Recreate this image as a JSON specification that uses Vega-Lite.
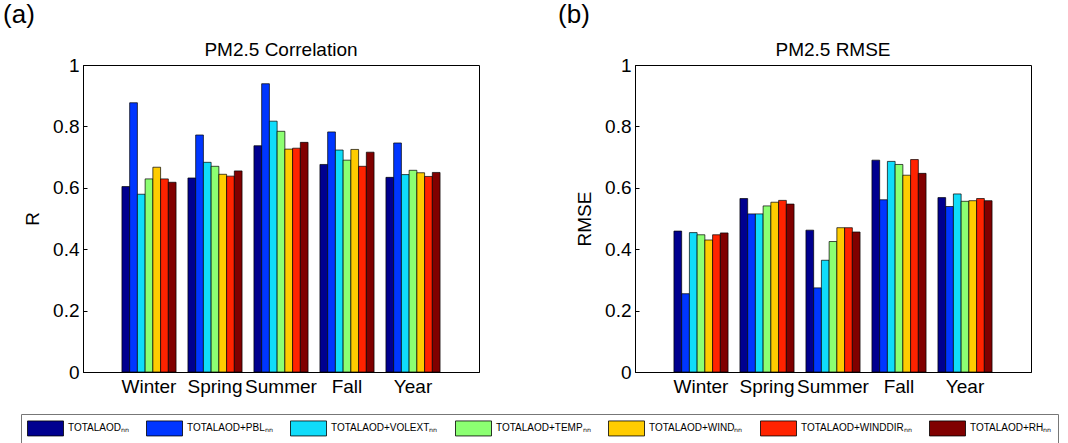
{
  "$schema": "https://vega.github.io/schema/vega-lite/v6.json",
  "background": "white",
  "padding": {"left": 3, "top": 1, "right": 8, "bottom": 0},
  "config": {
    "font": "Liberation Sans",
    "view": {"stroke": "#000", "strokeWidth": 1},
    "axis": {
      "grid": false,
      "domainColor": "#000",
      "tickColor": "#000",
      "labelColor": "#000",
      "titleColor": "#000",
      "labelFont": "Liberation Sans",
      "titleFont": "Liberation Sans",
      "labelFontSize": 19,
      "titleFontSize": 19,
      "titleFontWeight": "normal"
    },
    "title": {"font": "Liberation Sans", "fontWeight": "normal", "color": "#000"},
    "legend": {
      "orient": "none",
      "legendX": -62,
      "legendY": 349,
      "direction": "horizontal",
      "columns": 7,
      "symbolType": "M-1,-1H3.8V1H-1Z",
      "symbolSize": 225,
      "symbolStrokeColor": "#000",
      "symbolStrokeWidth": 0.8,
      "symbolOpacity": 1,
      "labelFont": "Liberation Sans",
      "labelFontSize": 10,
      "labelColor": "#000",
      "labelOffset": 25,
      "columnPadding": 15,
      "strokeColor": "#777",
      "padding": 6
    }
  },
  "datasets": {
    "scores": [
      {"panel": "R", "season": "Winter", "series": "TOTALAOD", "value": 0.604},
      {"panel": "R", "season": "Winter", "series": "TOTALAOD+PBL", "value": 0.877},
      {"panel": "R", "season": "Winter", "series": "TOTALAOD+VOLEXT", "value": 0.579},
      {"panel": "R", "season": "Winter", "series": "TOTALAOD+TEMP", "value": 0.629},
      {"panel": "R", "season": "Winter", "series": "TOTALAOD+WIND", "value": 0.667},
      {"panel": "R", "season": "Winter", "series": "TOTALAOD+WINDDIR", "value": 0.629},
      {"panel": "R", "season": "Winter", "series": "TOTALAOD+RH", "value": 0.618},
      {"panel": "R", "season": "Spring", "series": "TOTALAOD", "value": 0.632},
      {"panel": "R", "season": "Spring", "series": "TOTALAOD+PBL", "value": 0.772},
      {"panel": "R", "season": "Spring", "series": "TOTALAOD+VOLEXT", "value": 0.683},
      {"panel": "R", "season": "Spring", "series": "TOTALAOD+TEMP", "value": 0.670},
      {"panel": "R", "season": "Spring", "series": "TOTALAOD+WIND", "value": 0.644},
      {"panel": "R", "season": "Spring", "series": "TOTALAOD+WINDDIR", "value": 0.638},
      {"panel": "R", "season": "Spring", "series": "TOTALAOD+RH", "value": 0.655},
      {"panel": "R", "season": "Summer", "series": "TOTALAOD", "value": 0.737},
      {"panel": "R", "season": "Summer", "series": "TOTALAOD+PBL", "value": 0.939},
      {"panel": "R", "season": "Summer", "series": "TOTALAOD+VOLEXT", "value": 0.817},
      {"panel": "R", "season": "Summer", "series": "TOTALAOD+TEMP", "value": 0.784},
      {"panel": "R", "season": "Summer", "series": "TOTALAOD+WIND", "value": 0.726},
      {"panel": "R", "season": "Summer", "series": "TOTALAOD+WINDDIR", "value": 0.729},
      {"panel": "R", "season": "Summer", "series": "TOTALAOD+RH", "value": 0.748},
      {"panel": "R", "season": "Fall", "series": "TOTALAOD", "value": 0.676},
      {"panel": "R", "season": "Fall", "series": "TOTALAOD+PBL", "value": 0.782},
      {"panel": "R", "season": "Fall", "series": "TOTALAOD+VOLEXT", "value": 0.723},
      {"panel": "R", "season": "Fall", "series": "TOTALAOD+TEMP", "value": 0.690},
      {"panel": "R", "season": "Fall", "series": "TOTALAOD+WIND", "value": 0.725},
      {"panel": "R", "season": "Fall", "series": "TOTALAOD+WINDDIR", "value": 0.670},
      {"panel": "R", "season": "Fall", "series": "TOTALAOD+RH", "value": 0.716},
      {"panel": "R", "season": "Year", "series": "TOTALAOD", "value": 0.634},
      {"panel": "R", "season": "Year", "series": "TOTALAOD+PBL", "value": 0.746},
      {"panel": "R", "season": "Year", "series": "TOTALAOD+VOLEXT", "value": 0.643},
      {"panel": "R", "season": "Year", "series": "TOTALAOD+TEMP", "value": 0.657},
      {"panel": "R", "season": "Year", "series": "TOTALAOD+WIND", "value": 0.649},
      {"panel": "R", "season": "Year", "series": "TOTALAOD+WINDDIR", "value": 0.637},
      {"panel": "R", "season": "Year", "series": "TOTALAOD+RH", "value": 0.650},
      {"panel": "RMSE", "season": "Winter", "series": "TOTALAOD", "value": 0.459},
      {"panel": "RMSE", "season": "Winter", "series": "TOTALAOD+PBL", "value": 0.255},
      {"panel": "RMSE", "season": "Winter", "series": "TOTALAOD+VOLEXT", "value": 0.454},
      {"panel": "RMSE", "season": "Winter", "series": "TOTALAOD+TEMP", "value": 0.447},
      {"panel": "RMSE", "season": "Winter", "series": "TOTALAOD+WIND", "value": 0.430},
      {"panel": "RMSE", "season": "Winter", "series": "TOTALAOD+WINDDIR", "value": 0.447},
      {"panel": "RMSE", "season": "Winter", "series": "TOTALAOD+RH", "value": 0.453},
      {"panel": "RMSE", "season": "Spring", "series": "TOTALAOD", "value": 0.565},
      {"panel": "RMSE", "season": "Spring", "series": "TOTALAOD+PBL", "value": 0.515},
      {"panel": "RMSE", "season": "Spring", "series": "TOTALAOD+VOLEXT", "value": 0.515},
      {"panel": "RMSE", "season": "Spring", "series": "TOTALAOD+TEMP", "value": 0.541},
      {"panel": "RMSE", "season": "Spring", "series": "TOTALAOD+WIND", "value": 0.553},
      {"panel": "RMSE", "season": "Spring", "series": "TOTALAOD+WINDDIR", "value": 0.559},
      {"panel": "RMSE", "season": "Spring", "series": "TOTALAOD+RH", "value": 0.547},
      {"panel": "RMSE", "season": "Summer", "series": "TOTALAOD", "value": 0.462},
      {"panel": "RMSE", "season": "Summer", "series": "TOTALAOD+PBL", "value": 0.274},
      {"panel": "RMSE", "season": "Summer", "series": "TOTALAOD+VOLEXT", "value": 0.364},
      {"panel": "RMSE", "season": "Summer", "series": "TOTALAOD+TEMP", "value": 0.425},
      {"panel": "RMSE", "season": "Summer", "series": "TOTALAOD+WIND", "value": 0.470},
      {"panel": "RMSE", "season": "Summer", "series": "TOTALAOD+WINDDIR", "value": 0.470},
      {"panel": "RMSE", "season": "Summer", "series": "TOTALAOD+RH", "value": 0.456},
      {"panel": "RMSE", "season": "Fall", "series": "TOTALAOD", "value": 0.690},
      {"panel": "RMSE", "season": "Fall", "series": "TOTALAOD+PBL", "value": 0.561},
      {"panel": "RMSE", "season": "Fall", "series": "TOTALAOD+VOLEXT", "value": 0.686},
      {"panel": "RMSE", "season": "Fall", "series": "TOTALAOD+TEMP", "value": 0.676},
      {"panel": "RMSE", "season": "Fall", "series": "TOTALAOD+WIND", "value": 0.641},
      {"panel": "RMSE", "season": "Fall", "series": "TOTALAOD+WINDDIR", "value": 0.692},
      {"panel": "RMSE", "season": "Fall", "series": "TOTALAOD+RH", "value": 0.647},
      {"panel": "RMSE", "season": "Year", "series": "TOTALAOD", "value": 0.568},
      {"panel": "RMSE", "season": "Year", "series": "TOTALAOD+PBL", "value": 0.539},
      {"panel": "RMSE", "season": "Year", "series": "TOTALAOD+VOLEXT", "value": 0.580},
      {"panel": "RMSE", "season": "Year", "series": "TOTALAOD+TEMP", "value": 0.556},
      {"panel": "RMSE", "season": "Year", "series": "TOTALAOD+WIND", "value": 0.558},
      {"panel": "RMSE", "season": "Year", "series": "TOTALAOD+WINDDIR", "value": 0.565},
      {"panel": "RMSE", "season": "Year", "series": "TOTALAOD+RH", "value": 0.558}
    ]
  },
  "data": {"name": "scores"},
  "spacing": 78,
  "hconcat": [
    {
      "title": {"text": "(a)", "anchor": "start", "frame": "bounds", "fontSize": 26, "dx": -20, "offset": 13},
      "vconcat": [
        {
          "title": {"text": "PM2.5 Correlation", "fontSize": 19, "offset": -4},
          "width": 396,
          "height": 307,
          "transform": [{"filter": "datum.panel === 'R'"}],
          "mark": {"type": "bar", "stroke": "#000", "strokeWidth": 0.7},
          "encoding": {
            "x": {"field": "season", "type": "nominal", "sort": ["Winter", "Spring", "Summer", "Fall", "Year"],
                  "scale": {"paddingInner": 0.18, "paddingOuter": 0.59},
                  "axis": {"orient": "bottom", "title": null, "labelAngle": 0, "ticks": false, "labelPadding": 5}},
            "xOffset": {"field": "series", "type": "nominal",
                        "sort": ["TOTALAOD", "TOTALAOD+PBL", "TOTALAOD+VOLEXT", "TOTALAOD+TEMP", "TOTALAOD+WIND", "TOTALAOD+WINDDIR", "TOTALAOD+RH"],
                        "scale": {"paddingInner": 0, "paddingOuter": 0}},
            "y": {"field": "value", "type": "quantitative", "scale": {"domain": [0, 1], "nice": false},
                  "axis": {"orient": "left", "title": "R", "values": [0, 0.2, 0.4, 0.6, 0.8, 1], "format": "~g", "tickSize": -4, "labelPadding": 8, "titlePadding": 10}},
            "color": {"field": "series", "type": "nominal",
                      "scale": {"domain": ["TOTALAOD", "TOTALAOD+PBL", "TOTALAOD+VOLEXT", "TOTALAOD+TEMP", "TOTALAOD+WIND", "TOTALAOD+WINDDIR", "TOTALAOD+RH"],
                                "range": ["#00008F", "#0036FF", "#10DCFA", "#8CFF72", "#FFCC00", "#FF2300", "#800000"]},
                      "legend": {"title": null, "labelExpr": "datum.label + 'ₙₙ'"}}
          }
        }
      ]
    },
    {
      "title": {"text": "(b)", "anchor": "start", "frame": "bounds", "fontSize": 26, "dx": -17, "offset": 13},
      "vconcat": [
        {
          "title": {"text": "PM2.5 RMSE", "fontSize": 19, "offset": -4},
          "width": 396,
          "height": 307,
          "transform": [{"filter": "datum.panel === 'RMSE'"}],
          "mark": {"type": "bar", "stroke": "#000", "strokeWidth": 0.7},
          "encoding": {
            "x": {"field": "season", "type": "nominal", "sort": ["Winter", "Spring", "Summer", "Fall", "Year"],
                  "scale": {"paddingInner": 0.18, "paddingOuter": 0.59},
                  "axis": {"orient": "bottom", "title": null, "labelAngle": 0, "ticks": false, "labelPadding": 5}},
            "xOffset": {"field": "series", "type": "nominal",
                        "sort": ["TOTALAOD", "TOTALAOD+PBL", "TOTALAOD+VOLEXT", "TOTALAOD+TEMP", "TOTALAOD+WIND", "TOTALAOD+WINDDIR", "TOTALAOD+RH"],
                        "scale": {"paddingInner": 0, "paddingOuter": 0}},
            "y": {"field": "value", "type": "quantitative", "scale": {"domain": [0, 1], "nice": false},
                  "axis": {"orient": "left", "title": "RMSE", "values": [0, 0.2, 0.4, 0.6, 0.8, 1], "format": "~g", "tickSize": -4, "labelPadding": 8, "titlePadding": 10}},
            "color": {"field": "series", "type": "nominal",
                      "scale": {"domain": ["TOTALAOD", "TOTALAOD+PBL", "TOTALAOD+VOLEXT", "TOTALAOD+TEMP", "TOTALAOD+WIND", "TOTALAOD+WINDDIR", "TOTALAOD+RH"],
                                "range": ["#00008F", "#0036FF", "#10DCFA", "#8CFF72", "#FFCC00", "#FF2300", "#800000"]},
                      "legend": {"title": null, "labelExpr": "datum.label + 'ₙₙ'"}}
          }
        }
      ]
    }
  ]
}
